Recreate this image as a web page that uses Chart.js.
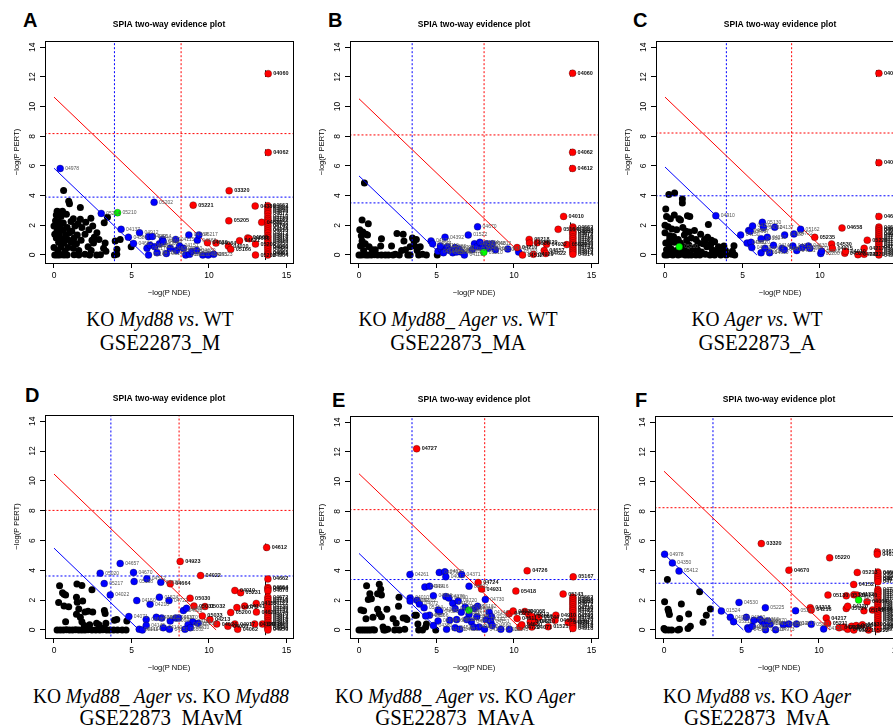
<!DOCTYPE html>
<html>
<head>
<meta charset="utf-8">
<script src="https://cdn.jsdelivr.net/npm/chart.js@4.4.1/dist/chart.umd.min.js"></script>
<style>
body { margin: 0; width: 893px; height: 727px; overflow: hidden; background: #fff; position: relative; }
canvas { position: absolute; }
.letter { position: absolute; font: bold 20px "Liberation Sans", Arial, sans-serif; line-height: 20px; color: #000; }
.cap { position: absolute; width: 320px; text-align: center; white-space: nowrap; color: #000;
       font-family: "Liberation Serif", "Times New Roman", serif; }
.cap1 { font-size: 20px; line-height: 20px; transform: scaleX(0.97); }
.cap2 { font-size: 24px; line-height: 24px; transform: scaleX(0.87); }
.cut { height: 21px; overflow: hidden; }
</style>
</head>
<body>
<div class="letter" style="left:23px;top:10px">A</div>
<div class="letter" style="left:328px;top:10px">B</div>
<div class="letter" style="left:633px;top:10px">C</div>
<div class="letter" style="left:25px;top:385px">D</div>
<div class="letter" style="left:332px;top:390px">E</div>
<div class="letter" style="left:635px;top:390px">F</div>

<div class="cap cap1" style="left:0px;top:309px">KO <i>Myd88</i> <i>vs</i>. WT</div>
<div class="cap cap2" style="left:0px;top:330px">GSE22873_M</div>
<div class="cap cap1" style="left:298px;top:309px">KO <i>Myd88_ Ager</i> <i>vs</i>. WT</div>
<div class="cap cap2" style="left:298px;top:330px">GSE22873_MA</div>
<div class="cap cap1" style="left:597px;top:309px">KO <i>Ager</i> <i>vs</i>. WT</div>
<div class="cap cap2" style="left:597px;top:330px">GSE22873_A</div>
<div class="cap cap1" style="left:1px;top:686px">KO <i>Myd88_ Ager</i> <i>vs</i>. KO <i>Myd88</i></div>
<div class="cap cap2 cut" style="left:1px;top:705px">GSE22873_MAvM</div>
<div class="cap cap1" style="left:295px;top:686px">KO <i>Myd88_ Ager</i> <i>vs</i>. KO <i>Ager</i></div>
<div class="cap cap2 cut" style="left:295px;top:705px">GSE22873_MAvA</div>
<div class="cap cap1" style="left:597px;top:686px">KO <i>Myd88</i> <i>vs</i>. KO <i>Ager</i></div>
<div class="cap cap2 cut" style="left:597px;top:705px">GSE22873_MvA</div>

<script>
// tick labels shared by all six panels
const X_TICKS = [0, 5, 10, 15];
const Y_TICKS = [0, 2, 4, 6, 8, 10, 12, 14];

// threshold lines (A..F)
const BLUE_V = [3.9, 3.43, 3.96, 3.67, 3.42, 3.16];
const BLUE_H = [3.9, 3.51, 3.99, 3.62, 3.4, 3.15];
const RED_V = [8.2, 8.07, 8.17, 8.07, 8.11, 8.2];
const RED_H = [8.18, 8.09, 8.22, 8.02, 8.11, 8.24];
const RED_DIAG = [10.64, 10.53, 10.64, 10.46, 10.53, 10.7];
const BLUE_DIAG = [5.85, 5.33, 5.93, 5.49, 5.16, 5.12];

// pathway ids used for the crowded column at the right edge
const COLUMN_IDS = ['04662','04664','04666','04670','04672','04710','04720','04722','04730','04740',
  '04742','04744','04910','04912','04914','04916','04918','04920','04930','04940','04950','04960',
  '04961','04962','04964','04966','04970','04971','04972','04973','04974','04975'];

// ---- A: KO Myd88 vs WT ----
const A_BLACK = [[0.62,4.35],[0.95,3.62],[1.0,3.45],[1.7,3.2],[0.2,2.95],[0.35,2.9],[0.55,2.95],[0.15,2.7],[0.8,2.75],
  [0.45,2.6],[1.25,2.45],[2.38,2.47],[1.7,2.4],[3.45,2.55],[0.1,2.3],[0.3,2.2],[0.6,2.15],[1.1,2.25],[1.55,2.1],
  [2.05,2.2],[3.24,2.17],[0.0,1.95],[0.4,1.95],[0.85,1.85],[1.35,1.95],[1.8,1.85],[2.5,1.95],[0.2,1.65],[0.6,1.7],
  [1.15,1.6],[2.25,1.7],[2.77,1.5],[0.05,1.4],[0.35,1.45],[0.75,1.35],[1.0,1.5],[1.5,1.35],[2.0,1.4],[2.6,1.2],
  [0.15,1.15],[0.5,1.1],[0.9,1.05],[1.3,1.15],[1.75,1.0],[2.45,1.0],[2.9,1.05],[3.95,0.94],[4.27,1.05],[0.3,0.85],
  [0.65,0.8],[1.1,0.85],[1.45,0.75],[2.55,0.8],[3.3,0.8],[0.0,0.5],[0.45,0.55],[0.9,0.5],[1.25,0.45],[2.2,0.55],
  [3.2,0.45],[4.98,0.56],[0.25,0.3],[0.7,0.25],[1.6,0.3],[2.4,0.3],[3.35,0.25],[4.06,0.38],[0.05,0.0],[0.2,0.0],
  [0.35,0.0],[0.5,0.02],[0.65,0.0],[0.85,0.0],[1.3,0.02],[1.6,0.0],[2.0,0.05],[2.3,0.0],[2.75,0.0],[3.0,0.02],
  [3.9,0.0],[4.05,0.05]];
const A_BLUE = [[0.4,5.83,'04978'],[3.05,2.8,'05214'],[4.33,1.73,'04137'],[4.8,1.2,'04380'],[5.13,0.78,'04662'],
  [5.52,1.5,'04912'],[6.1,1.23,'04066'],[6.35,1.25,'04914'],[6.46,3.55,'05202'],[6.0,0.45,'04217'],[6.1,0.0,'05145'],
  [6.2,0.65,'04621'],[6.5,0.55,'04620'],[6.65,0.15,'04722'],[6.8,0.75,'04068'],[7.0,1.05,'04071'],[7.05,0.9,'04010'],
  [7.25,0.1,'05140'],[7.5,0.45,'04650'],[7.85,1.05,'04115'],[7.9,0.3,'04370'],[8.1,0.6,'04151'],[8.35,0.45,'04210'],
  [8.7,1.35,'04064'],[8.5,0.0,'05161'],[8.75,0.05,'04620'],[8.9,0.25,'05160'],[9.25,1.0,'04668'],[9.35,1.35,'05217'],
  [9.2,0.3,'04630'],[9.6,0.0,'04142'],[9.95,0.0,'04145'],[10.3,0.05,'05323']];
const A_GREEN = [[4.1,2.85,'05210']];
const A_RED = [[13.82,12.22,'04060'],[13.82,6.9,'04062'],[11.3,4.33,'03320'],[8.98,3.36,'05221'],[11.28,2.3,'05205'],
  [12.98,3.3,'04380'],[13.4,2.2,'04630'],[9.9,0.83,'04620'],[10.45,0.8,'04064'],[11.25,0.6,'04010'],[11.4,0.38,'05166'],
  [11.97,0.96,'04621'],[12.5,1.15,'04668'],[12.6,1.1,'04666'],[13.0,0.74,'05200'],[13.0,0.0,'05202']];
const A_COLUMN = [3.32,3.2,3.05,2.9,2.78,2.6,2.45,2.33,2.2,2.02,1.9,1.75,1.62,1.48,1.3,1.18,1.02,0.9,0.77,0.6,0.48,0.35,0.2,0.08,0.0];
const A_MARKS = [[13.65,-0.34,3.58],[13.65,12.0,12.45],[13.65,6.68,7.12]];

// ---- B: KO Myd88_Ager vs WT ----
const B_BLACK = [[0.35,4.85],[0.2,2.35],[0.6,2.1],[0.05,1.7],[0.25,1.55],[0.45,1.4],[0.15,1.3],[0.55,1.35],[0.2,0.95],
  [0.4,0.75],[0.1,0.6],[0.65,0.55],[0.3,0.3],[0.85,0.35],[0.0,0.0],[0.15,0.0],[0.3,0.02],[0.45,0.0],[0.6,0.0],[0.8,0.0],
  [1.0,0.02],[1.2,0.0],[1.45,0.0],[1.7,0.0],[1.9,0.0],[1.45,1.1],[1.4,0.6],[2.1,0.6],[2.45,1.45],[2.35,0.05],[2.6,0.0],
  [2.85,1.4],[2.9,0.95],[3.0,0.35],[2.75,0.3],[3.15,0.0],[3.3,0.55],[3.45,1.15],[3.55,0.95],[3.6,0.6],[3.7,1.05],
  [3.75,0.3],[3.95,0.55],[3.3,0.0],[3.85,0.0],[4.1,0.05],[4.35,0.0],[5.05,0.0],[2.2,0.0],[1.05,0.35]];
const B_BLUE = [[4.65,0.95,'04670'],[4.75,0.75,'04664'],[5.55,1.2,'04392'],[7.05,1.35,'01522'],[7.65,1.9,'04670'],
  [5.1,0.25,'04144'],[5.3,0.4,'04010'],[5.45,0.15,'04062'],[5.7,0.55,'04380'],[5.85,0.3,'04621'],[6.05,0.15,'05200'],
  [6.2,0.5,'04722'],[6.45,0.4,'04810'],[6.6,0.2,'04910'],[6.8,0.0,'04115'],[7.3,0.35,'04140'],[7.45,0.75,'04150'],
  [7.6,0.55,'04370'],[7.8,0.85,'04064'],[7.95,0.5,'05131'],[8.25,0.75,'04068'],[8.35,0.45,'05162'],[8.6,0.75,'04012'],
  [8.8,0.35,'04350'],[9.6,0.4,'04141'],[10.3,0.2,'05323'],[6.3,0.2,'04520'],[5.25,0.6,'04110']];
const B_GREEN = [[8.05,0.18,'05210']];
const B_RED = [[13.78,12.25,'04060'],[13.78,6.92,'04062'],[13.78,5.83,'04612'],[13.2,2.6,'04010'],[12.85,1.73,'05164'],
  [10.98,1.05,'05218'],[11.0,0.8,'04630'],[11.5,0.83,'04620'],[12.1,0.72,'04932'],[10.2,0.5,'04210'],[10.55,0.0,'04512'],
  [11.25,0.05,'04920'],[11.95,0.3,'04657'],[12.05,0.1,'04622'],[13.4,0.7,'05020']];
const B_COLUMN = [1.88,1.75,1.6,1.5,1.38,1.22,1.1,0.95,0.82,0.7,0.55,0.42,0.3,0.18,0.05];
const B_MARKS = [[13.65,-0.1,2.2],[13.65,12.02,12.45],[13.65,6.7,7.15],[13.65,5.62,6.05]];

// ---- C: KO Ager vs WT ----
const C_BLACK = [[0.25,4.07],[0.62,4.18],[1.12,3.78],[1.12,3.5],[0.05,3.1],[0.1,2.6],[0.35,2.45],[0.6,2.7],[0.9,2.45],
  [1.0,2.35],[1.45,2.65],[1.6,2.6],[2.8,2.05],[0.0,2.0],[0.2,1.9],[0.45,1.75],[0.75,1.7],[1.15,1.85],[1.55,1.55],
  [1.9,1.65],[2.3,1.4],[2.55,1.05],[2.75,1.2],[3.0,1.0],[3.2,0.9],[3.45,0.55],[3.65,0.4],[3.9,0.3],[4.45,0.62],
  [4.35,0.25],[4.5,0.0],[4.3,0.05],[0.0,1.5],[0.3,1.3],[0.55,1.25],[0.85,1.05],[1.25,1.35],[1.4,1.0],[1.7,1.15],
  [2.0,1.05],[2.15,0.8],[2.45,0.75],[2.7,0.55],[2.95,0.7],[3.05,0.35],[3.3,0.15],[0.05,0.8],[0.25,0.7],[0.6,0.85],
  [1.0,0.8],[1.25,0.55],[1.55,0.65],[1.8,0.4],[2.1,0.35],[2.35,0.2],[2.6,0.05],[0.1,0.35],[0.4,0.4],[0.75,0.3],
  [1.1,0.25],[1.45,0.2],[1.7,0.0],[2.0,0.0],[2.25,0.0],[2.9,0.0],[3.2,0.0],[3.6,0.0],[3.95,0.0],[0.0,0.0],[0.15,0.0],
  [0.3,0.05],[0.5,0.0],[0.65,0.1],[0.85,0.0],[1.05,0.05],[1.3,0.0],[1.5,0.0],[3.4,0.3],[3.8,0.6],[2.0,0.55],
  [1.35,1.6],[0.3,1.05],[2.6,0.95]];
const C_BLUE = [[3.28,2.65,'04910'],[4.88,1.35,'04150'],[5.4,1.65,'04068'],[5.5,1.6,'04917'],[5.65,1.95,'04110'],
  [6.28,2.2,'05130'],[6.35,1.85,'04062'],[7.08,1.87,'04137'],[6.6,1.2,'04210'],[6.2,1.1,'04310'],[7.72,1.35,'04380'],
  [8.32,1.42,'04722'],[8.75,1.73,'05162'],[5.3,0.8,'04350'],[5.55,0.85,'04620'],[5.6,0.5,'04621'],[6.2,0.15,'04664'],
  [6.45,0.45,'04014'],[6.75,0.15,'04660'],[7.0,0.65,'04140'],[7.55,0.45,'04141'],[7.7,0.35,'04810'],[8.25,0.6,'04012'],
  [8.5,0.3,'04151'],[8.85,0.5,'04370'],[9.25,0.6,'04630'],[9.35,0.45,'04071'],[10.05,0.1,'05200'],[10.1,0.25,'04666']];
const C_GREEN = [[0.92,0.56,'05210']];
const C_RED = [[13.8,12.24,'04060'],[13.8,6.22,'04062'],[13.8,2.6,'04612'],[11.42,1.82,'04658'],[9.66,1.19,'05235'],
  [10.75,0.74,'04530'],[10.8,0.45,'04915'],[11.6,0.12,'04520'],[11.65,0.25,'04010'],[12.45,0.02,'04722'],
  [12.85,0.05,'04320'],[12.85,0.45,'04217'],[13.05,1.0,'05220']];
const C_COLUMN = [1.88,1.75,1.62,1.48,1.35,1.22,1.1,0.98,0.85,0.72,0.6,0.48,0.35,0.22,0.1,0.0];
const C_MARKS = [[13.65,-0.15,2.05],[13.65,12.0,12.45],[13.65,6.0,6.45],[13.65,2.4,2.8]];

// ---- D: KO Myd88_Ager vs KO Myd88 ----
const D_BLACK = [[0.36,2.96],[0.3,1.84],[0.55,2.5],[0.65,2.4],[0.75,2.35],[1.48,3.09],[1.8,2.98],[1.85,1.95],[1.45,2.2],
  [2.45,2.7],[1.5,1.85],[0.65,1.6],[0.95,1.55],[1.6,1.4],[0.75,0.55],[1.45,1.05],[1.7,0.85],[1.8,0.55],[2.0,1.2],
  [2.2,1.25],[2.5,1.2],[1.95,0.3],[2.3,0.35],[2.75,0.45],[3.25,1.3],[3.3,1.1],[3.35,0.45],[3.9,0.65],[4.05,0.7],
  [4.7,0.6],[3.85,0.0],[4.1,0.0],[4.4,0.0],[4.65,0.0],[0.2,0.0],[0.4,0.0],[0.6,0.0],[0.8,0.02],[1.0,0.0],[1.2,0.0],
  [1.4,0.02],[1.6,0.0],[1.8,0.0],[2.0,0.0],[2.2,0.02],[2.45,0.0],[2.7,0.0],[2.95,0.0],[3.15,0.02],[3.4,0.0],[3.6,0.0],
  [2.9,0.35],[3.25,0.15]];
const D_BLUE = [[4.27,4.46,'04657'],[2.98,3.81,'05020'],[5.13,3.85,'04670'],[3.24,3.11,'05217'],[5.99,3.43,'04512'],
  [5.17,3.25,'05168'],[6.89,3.2,'04933'],[3.63,2.35,'04022'],[5.34,1.97,'04150'],[6.2,1.72,'04210'],[6.8,2.2,'01524'],
  [7.42,1.97,'04722'],[4.83,0.9,'04071'],[5.95,0.7,'04660'],[6.6,0.85,'04350'],[6.95,0.8,'04062'],[7.5,0.6,'04064'],
  [7.85,0.8,'04110'],[8.05,0.8,'04370'],[8.35,1.3,'04620'],[8.55,1.45,'04621'],[8.95,0.55,'04115'],[8.65,0.35,'04142'],
  [9.3,0.45,'05200'],[5.5,0.05,'04141'],[5.7,0.0,'04144'],[5.95,0.3,'04145'],[7.05,0.15,'04140'],[7.45,0.05,'04151'],
  [8.45,0.05,'05162'],[8.8,0.15,'04810']];
const D_GREEN = [];
const D_RED = [[13.72,5.53,'04612'],[8.14,4.6,'04923'],[9.46,3.65,'04022'],[7.5,3.1,'04664'],[8.78,2.13,'05030'],
  [9.03,1.6,'05031'],[9.74,1.57,'05032'],[9.57,0.94,'05033'],[10.06,0.7,'04213'],[10.5,0.4,'04024'],[11.22,0.25,'04080'],
  [11.67,2.65,'04010'],[12.04,2.5,'05231'],[11.4,1.17,'05200'],[11.8,1.5,'04071'],[12.3,1.6,'04141'],[13.05,1.78,'04150'],
  [13.06,1.2,'04621'],[11.67,0.4,'04917'],[11.85,0.05,'04062'],[12.95,0.4,'04120'],[13.45,0.4,'04210']];
const D_COLUMN = [3.42,2.85,2.75,2.62,2.2,2.05,1.9,1.75,1.6,1.45,1.32,1.18,1.05,0.9,0.78,0.62,0.5,0.35,0.22,0.1,0.0];
const D_MARKS = [[13.65,-0.35,3.6],[13.65,5.3,5.8]];

// ---- E: KO Myd88_Ager vs KO Ager ----
const E_BLACK = [[0.49,2.98],[0.7,2.45],[0.8,2.1],[0.6,2.05],[1.2,2.45],[1.31,3.09],[1.4,2.75],[1.45,2.35],[1.2,1.4],
  [1.3,1.1],[1.8,1.4],[1.45,0.9],[0.13,1.34],[0.3,1.3],[0.45,0.75],[0.9,0.85],[2.58,2.2],[2.55,1.6],[2.2,0.75],
  [2.85,0.8],[3.0,0.8],[3.1,0.7],[3.6,1.0],[3.7,1.0],[3.8,0.4],[4.35,0.4],[4.3,0.2],[1.55,0.2],[2.4,0.45],[0.0,0.0],
  [0.15,0.0],[0.3,0.0],[0.45,0.0],[0.6,0.0],[0.75,0.0],[0.9,0.02],[1.0,0.0],[1.7,0.0],[1.85,0.05],[2.3,0.0],[2.6,0.0],
  [2.95,0.05],[3.85,0.0],[4.1,0.0],[4.95,0.0],[1.6,0.0]];
const E_BLUE = [[3.29,3.74,'04261'],[5.18,3.88,'04270'],[5.54,3.92,'04020'],[5.6,3.58,'04012'],[6.62,3.74,'04371'],
  [4.25,2.9,'04914'],[4.55,2.95,'04916'],[7.1,2.95,'04022'],[3.3,2.15,'04010'],[3.3,1.95,'04062'],[3.75,2.0,'04912'],
  [4.8,2.3,'04666'],[3.9,1.75,'04072'],[4.2,1.5,'05214'],[4.55,1.0,'04066'],[5.1,1.35,'04310'],[5.2,1.25,'04620'],
  [5.6,2.25,'04370'],[5.8,2.15,'04350'],[6.05,1.8,'04150'],[6.4,1.95,'04720'],[6.2,1.45,'04140'],[6.6,1.2,'04621'],
  [6.85,1.55,'04068'],[7.1,1.05,'04210'],[7.45,1.45,'04064'],[7.65,1.6,'05162'],[8.15,2.05,'04730'],[7.6,0.9,'04110'],
  [8.2,0.7,'04142'],[8.4,1.2,'04144'],[8.55,0.9,'05200'],[8.5,0.55,'04151'],[7.25,0.55,'04024'],[7.4,0.2,'04014'],
  [7.75,0.2,'04071'],[8.1,0.05,'04115'],[8.6,0.3,'04660'],[9.15,0.05,'04512'],[9.7,0.05,'04145'],[5.65,0.05,'04141'],
  [6.2,0.15,'04530'],[6.5,0.05,'04611'],[4.8,0.3,'04380'],[5.1,0.6,'04664'],[5.85,0.65,'04630'],[6.3,0.7,'04810'],
  [6.95,0.7,'04120'],[4.3,0.95,'04657']];
const E_GREEN = [[7.09,1.33,'05210']];
const E_RED = [[3.72,12.21,'04727'],[10.85,3.99,'04726'],[13.82,3.58,'05167'],[7.69,3.2,'04724'],[7.91,2.76,'04931'],
  [10.12,2.62,'05418'],[13.17,2.42,'05143'],[9.69,1.1,'04520'],[9.95,1.28,'04530'],[10.2,0.78,'04611'],[10.38,0.2,'04722'],
  [10.5,0.35,'04630'],[10.7,1.25,'04068'],[10.95,1.05,'04512'],[11.2,0.9,'04060'],[11.05,0.55,'04062'],[11.35,0.55,'04210'],
  [11.15,0.2,'04071'],[11.6,0.85,'04144'],[12.21,0.22,'01521'],[12.65,0.65,'04666'],[12.7,1.0,'04910'],[13.5,0.5,'04370']];
const E_COLUMN = [2.2,2.08,1.95,1.82,1.7,1.55,1.42,1.3,1.15,1.0,0.88,0.75,0.62,0.48,0.35,0.22,0.1];
const E_MARKS = [[13.65,-0.15,2.35]];

// ---- F: KO Myd88 vs KO Ager ----
const F_BLACK = [[0.22,3.41],[0.04,1.9],[0.26,1.39],[0.3,1.25],[0.35,1.05],[1.12,1.75],[1.01,0.78],[1.59,1.08],[2.3,2.58],
  [2.52,0.52],[2.73,1.0],[2.99,1.41],[1.7,0.25],[1.55,0.1],[0.0,0.1],[0.1,0.0],[0.3,0.0],[0.5,0.0],[0.9,0.0],[1.0,0.05],
  [0.05,0.05]];
const F_BLUE = [[0.04,5.11,'04978'],[0.54,4.52,'04350'],[0.97,3.97,'05412'],[3.7,1.28,'01524'],[4.28,0.85,'04080'],
  [4.49,0.56,'05211'],[4.84,1.86,'04530'],[6.54,1.5,'05225'],[8.49,1.3,'05217'],[5.31,0.85,'04020'],[5.4,0.15,'04610'],
  [5.45,0.05,'04520'],[5.7,0.25,'04270'],[5.8,0.65,'04022'],[6.2,0.7,'04310'],[6.35,0.55,'04920'],[6.5,0.4,'04114'],
  [6.55,0.02,'04610'],[6.85,0.4,'04914'],[7.2,0.02,'04973'],[7.7,0.35,'04350'],[8.05,0.4,'04012'],[8.55,0.4,'04810'],
  [9.5,0.38,'05211'],[10.3,0.07,'04150'],[6.7,0.6,'04670']];
const F_GREEN = [[12.56,2.02,'05210']];
const F_RED = [[6.28,5.82,'03320'],[10.69,4.86,'05220'],[8.06,4.03,'04670'],[12.47,3.88,'05213'],[12.24,3.07,'04152'],
  [10.58,2.35,'05130'],[11.76,2.3,'05131'],[12.25,2.38,'04132'],[12.45,2.35,'04140'],[9.44,1.5,'04218'],[9.5,1.35,'04216'],
  [11.76,1.45,'05014'],[11.85,1.6,'04120'],[12.9,1.3,'05142'],[13.1,1.9,'04064'],[13.45,1.35,'04666'],[10.47,0.8,'04217'],
  [10.56,0.45,'05211'],[11.3,0.15,'04212'],[11.6,0.2,'04920'],[11.85,0.05,'04610'],[12.1,0.25,'04141'],[12.4,0.3,'04214'],
  [12.8,0.35,'04530'],[12.25,0.0,'05221'],[13.2,0.0,'05222'],[13.76,5.26,'04612'],[13.76,5.1,'04613']];
const F_COLUMN = [3.9,3.78,3.62,3.5,3.38,3.25,2.72,2.6,2.48,2.35,2.2,2.05,1.92,1.78,1.65,1.5,1.38,1.22,1.1,0.95,0.82,0.68,0.55,0.4,0.28,0.15,0.05];
const F_MARKS = [[13.65,-0.35,4.15],[13.65,4.9,5.5]];

// plot box of every panel on the page (layout only)
const BOXES = [
  { left: 45, top: 41, right: 293, bottom: 263 },
  { left: 350, top: 41, right: 598, bottom: 263 },
  { left: 656, top: 41, right: 904, bottom: 263 },
  { left: 45, top: 415, right: 293, bottom: 638 },
  { left: 350, top: 416, right: 598, bottom: 638 },
  { left: 655, top: 416, right: 903, bottom: 638 },
];

const PANELS = [
  { black: A_BLACK, blue: A_BLUE, green: A_GREEN, red: A_RED, column: A_COLUMN, marks: A_MARKS },
  { black: B_BLACK, blue: B_BLUE, green: B_GREEN, red: B_RED, column: B_COLUMN, marks: B_MARKS },
  { black: C_BLACK, blue: C_BLUE, green: C_GREEN, red: C_RED, column: C_COLUMN, marks: C_MARKS },
  { black: D_BLACK, blue: D_BLUE, green: D_GREEN, red: D_RED, column: D_COLUMN, marks: D_MARKS },
  { black: E_BLACK, blue: E_BLUE, green: E_GREEN, red: E_RED, column: E_COLUMN, marks: E_MARKS },
  { black: F_BLACK, blue: F_BLUE, green: F_GREEN, red: F_RED, column: F_COLUMN, marks: F_MARKS },
];

const FONT = '"Liberation Sans", Arial, Helvetica, sans-serif';
const COLUMN_X = 13.8;
const DOT = 3.5;

// frame around the plot region, like R's box()
const boxPlugin = {
	id: "boxFrame",
	afterDatasetsDraw(chart) {
		const { ctx, chartArea: a } = chart;
		ctx.save();
		ctx.strokeStyle = "#000";
		ctx.lineWidth = 1;
		ctx.strokeRect(Math.round(a.left) + 0.5, Math.round(a.top) + 0.5,
			Math.round(a.right - a.left), Math.round(a.bottom - a.top));
		ctx.restore();
	},
};

// R writes the y tick labels parallel to the axis; place them from the y scale
const yLabelPlugin = {
	id: "yLabels",
	afterDraw(chart) {
		const { ctx, chartArea: a } = chart;
		const y = chart.scales.y;
		ctx.save();
		ctx.fillStyle = "#000";
		ctx.font = "8.5px " + FONT;
		ctx.textAlign = "center";
		ctx.textBaseline = "middle";
		y.ticks.forEach((t) => {
			ctx.save();
			ctx.translate(a.left - 12.5, y.getPixelForValue(t.value));
			ctx.rotate(-Math.PI / 2);
			ctx.fillText(String(t.value), 0, 0);
			ctx.restore();
		});
		ctx.restore();
	},
};

// pathway ids written next to the points
const idPlugin = {
	id: "idLabels",
	afterDatasetsDraw(chart) {
		const ctx = chart.ctx;
		ctx.save();
		ctx.textBaseline = "middle";
		chart.data.datasets.forEach((ds, i) => {
			if (!ds.ids) return;
			const meta = chart.getDatasetMeta(i);
			ctx.fillStyle = ds.idColor;
			ctx.font = ds.idFont;
			meta.data.forEach((el, j) => {
				if (ds.ids[j]) ctx.fillText(ds.ids[j], el.x + 5, el.y);
			});
		});
		ctx.restore();
	},
};

function toPoints(arr) {
	return arr.map((d) => ({ x: d[0], y: d[1] }));
}

function lineSet(data, color, dashed) {
	return {
		data: data,
		showLine: true,
		borderColor: color,
		borderWidth: 1,
		borderDash: dashed ? [2, 2] : [],
		pointRadius: 0,
		spanGaps: false,
	};
}

function pointSet(arr, color, idColor, idFont) {
	return {
		data: toPoints(arr),
		backgroundColor: color,
		borderColor: "rgba(0,0,0,0.45)",
		borderWidth: 0.6,
		pointRadius: DOT,
		showLine: false,
		ids: arr.map((d) => d[2]),
		idColor: idColor,
		idFont: idFont,
	};
}

function buildPanel(p, i) {
	const b = BOXES[i];
	const canvas = document.createElement("canvas");
	canvas.width = b.right - b.left + 45 + 6;
	canvas.height = b.bottom - b.top + 41 + 40;
	canvas.style.left = b.left - 45 + "px";
	canvas.style.top = b.top - 41 + "px";
	document.body.appendChild(canvas);

	const marks = [];
	p.marks.forEach((m) => {
		marks.push({ x: m[0], y: m[1] }, { x: m[0], y: m[2] }, { x: m[0], y: null });
	});

	const columnPts = p.column.map((y, k) => [COLUMN_X, y, COLUMN_IDS[k]]);
	const grayFont = "5px " + FONT;
	const blackFont = "bold 5.5px " + FONT;

	// first dataset is drawn on top
	const datasets = [
		pointSet(p.green, "#00ff00", "#555", grayFont),
		pointSet(columnPts, "#ff0000", "#111", blackFont),
		pointSet(p.red, "#ff0000", "#111", blackFont),
		pointSet(p.blue, "#0000ff", "#555", grayFont),
		lineSet([{ x: 0, y: RED_DIAG[i] }, { x: RED_DIAG[i], y: 0 }], "#ff0000", false),
		lineSet([{ x: 0, y: BLUE_DIAG[i] }, { x: BLUE_DIAG[i], y: 0 }], "#0000ff", false),
		lineSet([{ x: RED_V[i], y: -5 }, { x: RED_V[i], y: 20 }], "#ff0000", true),
		lineSet([{ x: -5, y: RED_H[i] }, { x: 20, y: RED_H[i] }], "#ff0000", true),
		lineSet([{ x: BLUE_V[i], y: -5 }, { x: BLUE_V[i], y: 20 }], "#0000ff", true),
		lineSet([{ x: -5, y: BLUE_H[i] }, { x: 20, y: BLUE_H[i] }], "#0000ff", true),
		lineSet(marks, "#000", false),
		{
			data: toPoints(p.black),
			backgroundColor: "#000",
			borderWidth: 0,
			pointRadius: DOT,
			showLine: false,
		},
	];

	new Chart(canvas.getContext("2d"), {
		type: "scatter",
		data: { datasets: datasets },
		plugins: [boxPlugin, idPlugin, yLabelPlugin],
		options: {
			responsive: false,
			animation: false,
			devicePixelRatio: 1,
			layout: { padding: { top: 0, right: 6, bottom: 0, left: 0 } },
			plugins: {
				legend: { display: false },
				tooltip: { enabled: false },
				title: {
					display: true,
					fullSize: false,
					text: "SPIA two-way evidence plot",
					color: "#000",
					font: { family: FONT, size: 8.5, weight: "bold" },
					padding: { top: 19.2, bottom: 11.6 },
				},
			},
			scales: {
				x: {
					type: "linear",
					min: -0.58,
					max: 15.42,
					afterBuildTicks: (s) => { s.ticks = X_TICKS.map((v) => ({ value: v })); },
					afterFit: (s) => { s.height = 40; },
					ticks: { color: "#000", font: { family: FONT, size: 8.5 }, padding: 3, maxRotation: 0, autoSkip: false },
					grid: { drawOnChartArea: false, drawTicks: true, tickLength: 5, color: "#000" },
					border: { display: false },
					title: { display: true, text: "\u2212log(P NDE)", color: "#000", font: { family: FONT, size: 7.5 }, padding: { top: 0, bottom: 5.5 } },
				},
				y: {
					type: "linear",
					min: -0.54,
					max: 14.42,
					afterBuildTicks: (s) => { s.ticks = Y_TICKS.map((v) => ({ value: v })); },
					afterFit: (s) => { s.width = 45; },
					ticks: { display: false, autoSkip: false },
					grid: { drawOnChartArea: false, drawTicks: true, tickLength: 5, color: "#000" },
					border: { display: false },
					title: { display: true, text: "\u2212log(P PERT)", color: "#000", font: { family: FONT, size: 7.5 }, padding: { top: 12.5, bottom: 0 } },
				},
			},
		},
	});
}

PANELS.forEach(buildPanel);
</script>
</body>
</html>
